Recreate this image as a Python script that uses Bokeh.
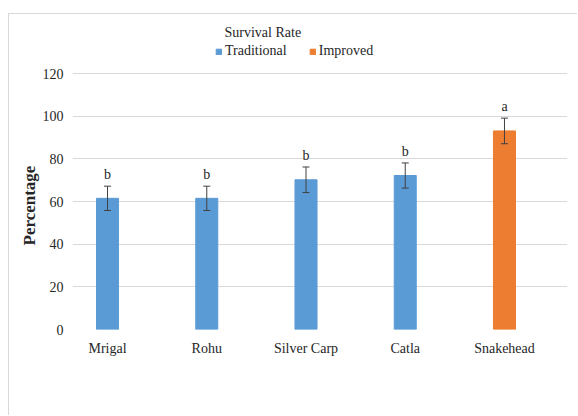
from bokeh.plotting import figure
from bokeh.models import ColumnDataSource, Whisker, Legend, LegendItem, Range1d, FixedTicker, Title
from bokeh.core.properties import value
from bokeh.embed import file_html
from bokeh.resources import INLINE

categories = ["Mrigal", "Rohu", "Silver Carp", "Catla", "Snakehead"]
survival = [61.5, 61.5, 70.2, 72.2, 93.1]
errors = [5.7, 5.7, 6.0, 5.9, 6.0]
letters = ["b", "b", "b", "b", "a"]
groups = ["Traditional", "Traditional", "Traditional", "Traditional", "Improved"]
y_ticks = [0, 20, 40, 60, 80, 100, 120]

FONT = "Liberation Serif"
BLUE = "#5B9BD5"
ORANGE = "#ED7D31"
TXT = "#262626"

xpos = list(range(len(categories)))
upper = [v + e for v, e in zip(survival, errors)]
lower = [v - e for v, e in zip(survival, errors)]

def subset(g):
    idx = [i for i, gg in enumerate(groups) if gg == g]
    return ColumnDataSource(dict(x=[xpos[i] for i in idx], top=[survival[i] for i in idx]))

src_all = ColumnDataSource(dict(x=xpos, top=survival, upper=upper, lower=lower, letters=letters))

p = figure(x_range=Range1d(-0.353, 4.635), y_range=Range1d(0, 135.5),
           width=569, height=402, margin=(13, 0, 0, 8),
           output_backend="svg", toolbar_location=None,
           min_border_left=63, min_border_right=11, min_border_top=26, min_border_bottom=87)
p.styles = {"border-left": "1px solid #d9d9d9", "border-top": "1px solid #d9d9d9"}
p.title.text = "Survival Rate"
p.title.align = "left"
p.title.offset = 152
p.title.standoff = 2
p.title.text_font = FONT
p.title.text_font_size = "14px"
p.title.text_font_style = "normal"
p.title.text_color = TXT
p.outline_line_color = None

r_trad = p.vbar(x="x", top="top", width=0.222, source=subset("Traditional"), fill_color=BLUE, line_color=BLUE)
r_imp = p.vbar(x="x", top="top", width=0.222, source=subset("Improved"), fill_color=ORANGE, line_color=ORANGE)

w = Whisker(base="x", upper="upper", lower="lower", source=src_all, line_color="#404040", line_width=1,
            level="overlay")
w.upper_head.size = 7
w.lower_head.size = 7
w.upper_head.line_color = "#404040"
w.lower_head.line_color = "#404040"
p.add_layout(w)

p.text(x="x", y="upper", text="letters", source=src_all, text_align="center", text_baseline="bottom",
       y_offset=-4, text_font=value(FONT), text_font_size="14px", text_color=TXT)

legend = Legend(items=[LegendItem(label="Traditional", renderers=[r_trad]),
                       LegendItem(label="Improved", renderers=[r_imp])],
                orientation="horizontal", location=(143, 270), padding=0, margin=0,
                glyph_width=7, glyph_height=7, label_standoff=3, spacing=22,
                label_text_font=FONT, label_text_font_size="14px", label_text_color=TXT,
                border_line_color=None, background_fill_alpha=0)
p.add_layout(legend)

p.add_layout(Title(text="Percentage", align="left", offset=84, standoff=2, text_font=FONT,
                   text_font_size="17px", text_font_style="bold", text_color=TXT), "left")

p.xaxis.ticker = FixedTicker(ticks=xpos)
p.xaxis.major_label_overrides = {i: c for i, c in zip(xpos, categories)}
p.yaxis.ticker = FixedTicker(ticks=y_ticks)
p.ygrid.grid_line_color = "#d9d9d9"
p.xgrid.grid_line_color = None
p.yaxis.axis_line_color = None
p.yaxis.major_tick_line_color = None
p.yaxis.minor_tick_line_color = None
p.xaxis.axis_line_color = None
p.xaxis.major_tick_line_color = None
p.xaxis.minor_tick_line_color = None
p.yaxis.major_label_text_font = FONT
p.yaxis.major_label_text_font_size = "14px"
p.yaxis.major_label_text_color = TXT
p.xaxis.major_label_text_font = FONT
p.xaxis.major_label_text_font_size = "14px"
p.xaxis.major_label_text_color = TXT
p.xaxis.major_label_standoff = 5
p.yaxis.major_label_standoff = 3

open("out.html", "w").write(file_html(p, INLINE))
